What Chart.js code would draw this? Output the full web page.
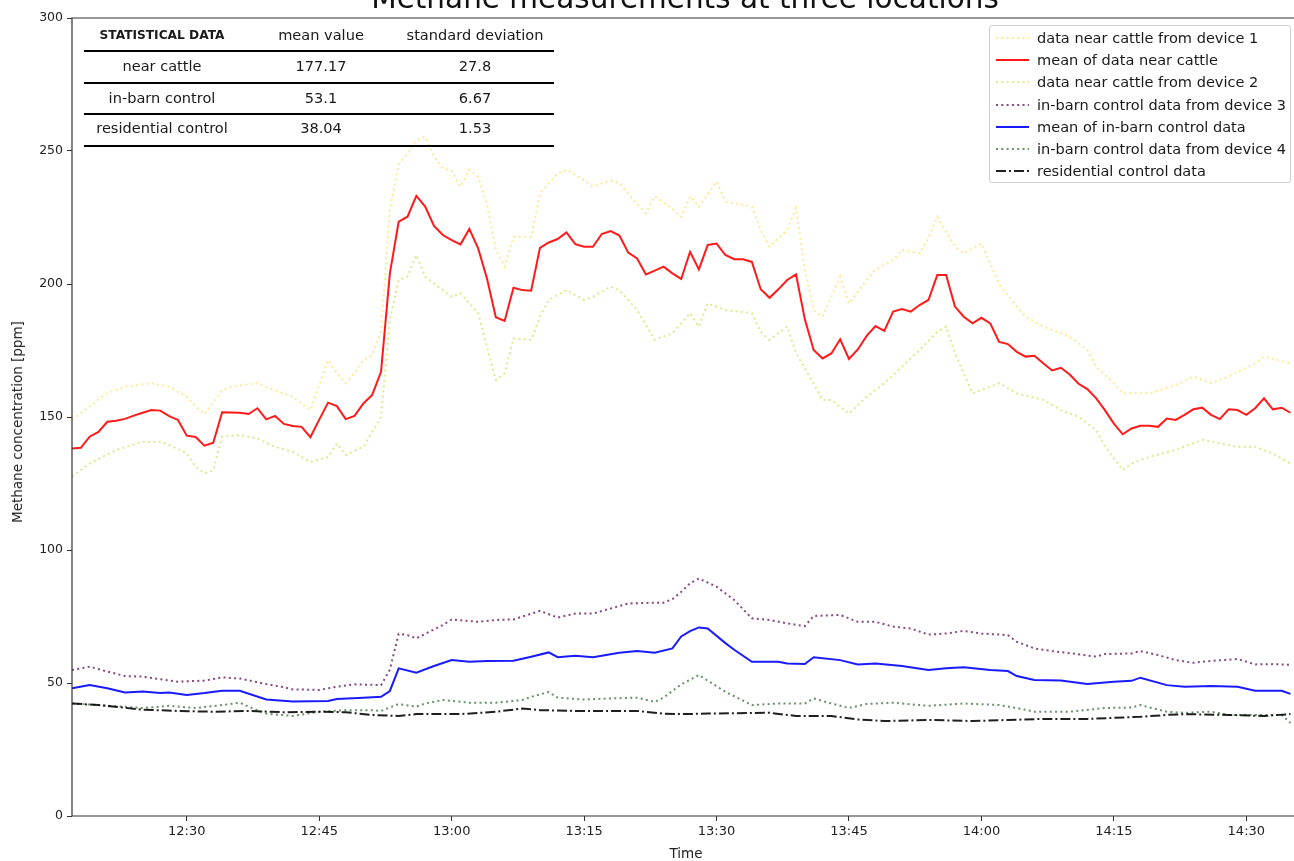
<!DOCTYPE html>
<html>
<head>
<meta charset="utf-8">
<script src="https://cdn.jsdelivr.net/npm/chart.js@4.4.0/dist/chart.umd.min.js"></script>
<style>
  html, body { margin: 0; padding: 0; background: #fff; overflow: hidden; }
  #wrap { position: relative; width: 1294px; height: 861px; font-family: "DejaVu Sans", sans-serif; color: #111; }
  #c { position: absolute; left: 0; top: 0; }
  #title { position: absolute; left: 685px; top: -16px; transform: translateX(-50%); font-size: 29.5px; line-height: 29.5px; white-space: nowrap; color: #111; }
  #ytitle { position: absolute; left: 17px; top: 422px; transform: translate(-50%, -50%) rotate(-90deg); font-size: 13.5px; white-space: nowrap; color: #222; }
  #xtitle { position: absolute; left: 686px; top: 853px; transform: translate(-50%, -50%); font-size: 13.5px; color: #222; }
  .cell { position: absolute; transform: translate(-50%, -50%) scaleX(1.04); font-size: 14px; white-space: nowrap; color: #1a1a1a; }
  .cell.head0 { font-weight: bold; font-size: 12.2px; transform: translate(-50%, -50%); }
  .rule { position: absolute; left: 84px; width: 470px; height: 1.5px; background: #000; }
  #legend { position: absolute; left: 989px; top: 25px; width: 302px; height: 158px; border: 1px solid #cfcfcf; border-radius: 3px; background: rgba(255,255,255,0.85); box-sizing: border-box; }
  .lrow { position: absolute; left: 0; height: 20px; width: 100%; }
  .lrow svg { position: absolute; left: 5px; top: 0; }
  .lrow span { position: absolute; left: 47px; top: 50%; transform: translateY(-50%) scaleX(1.04); transform-origin: left center; font-size: 14px; white-space: nowrap; color: #1a1a1a; }
</style>
</head>
<body>
<div id="wrap">
  <canvas id="c" width="1294" height="861"></canvas>
  <div id="title">Methane measurements at three locations</div>
  <div id="ytitle">Methane concentration [ppm]</div>
  <div id="xtitle">Time</div>
  <div id="stats"></div>
  <div id="legend"></div>
</div>
<script>
// Time axis: minutes after 12:17 (sampling once per minute)
const START_MIN = 12 * 60 + 17;
const END_MIN = START_MIN + 138.4;
const xTickMinutes = [750, 765, 780, 795, 810, 825, 840, 855, 870];
const yTickValues = [0, 50, 100, 150, 200, 250, 300];

// Mean of the two devices near cattle, one value per minute from 12:17
const cattleMeanPpm = [
  138.2, 138.4, 142.6, 144.4, 148.2, 148.6, 149.3, 150.5, 151.6, 152.6,
  152.4, 150.3, 148.9, 143.0, 142.5, 139.2, 140.3, 151.8, 151.7, 151.6,
  151.1, 153.3, 149.1, 150.4, 147.4, 146.6, 146.3, 142.4, 149.0, 155.4,
  154.1, 149.2, 150.4, 155.1, 158.3, 167.0, 204.0, 223.4, 225.3, 233.1,
  229.1, 221.8, 218.4, 216.5, 214.9, 220.7, 213.4, 202.1, 187.5, 186.1,
  198.6, 197.7, 197.5, 213.6, 215.6, 216.9, 219.4, 215.0, 214.0, 214.0,
  218.8, 219.9, 218.2, 211.8, 209.6, 203.6, 205.0, 206.5, 204.0, 201.9,
  212.1, 205.5, 214.7, 215.2, 210.9, 209.3, 209.3, 208.3, 198.0, 194.8,
  198.0, 201.5, 203.6, 186.7, 175.2, 172.0, 173.9, 179.2, 171.8, 175.4,
  180.5, 184.2, 182.4, 189.6, 190.6, 189.6, 192.1, 194.0, 203.4, 203.4,
  191.5, 187.7, 185.2, 187.3, 185.2, 178.2, 177.4, 174.5, 172.7, 173.0,
  170.2, 167.5, 168.5, 166.0, 162.5, 160.5, 157.0, 152.5, 147.5, 143.5,
  145.7, 146.7, 146.7, 146.3, 149.4, 148.9, 150.8, 152.9, 153.5, 150.8,
  149.2, 152.9, 152.6, 150.8, 153.3, 157.0, 152.9, 153.5, 151.6
];
const cattleMeanMin = cattleMeanPpm.map((_, i) => i);

const device1Min = [0, 4, 6, 9, 11, 13, 14, 15, 17, 18, 21, 23, 25, 26, 27, 29, 30, 31, 32, 33, 34, 35, 36, 37, 38, 39, 40, 41, 42, 43, 44, 45, 46, 47, 48, 49, 50, 52, 53, 54, 55, 56, 58, 59, 61, 62, 64, 65, 66, 68, 69, 70, 71, 73, 74, 77, 78, 79, 81, 82, 83, 84, 85, 87, 88, 90, 91, 93, 94, 96, 97, 98, 100, 101, 103, 105, 107, 108, 110, 113, 115, 116, 118, 119, 122, 125, 127, 129, 131, 134, 135, 138];
const device1Ppm = [149, 159, 161.4, 162.7, 161.4, 157.6, 154, 151, 160, 161.4, 162.7, 160, 157.6, 155, 152.6, 171.4, 166.4, 162.7, 166.4, 171.4, 173.3, 182, 228, 245, 249, 254, 255.4, 248, 243.5, 242.5, 236.6, 243, 240.3, 230, 212.8, 206.5, 217.8, 217.8, 234, 237.8, 241.6, 243, 239, 236.6, 239, 237.8, 230, 226.6, 233, 228.2, 225.3, 233, 229, 238.5, 231, 229, 220.3, 214, 220.3, 228.5, 205.3, 190.2, 187.7, 202.7, 192.7, 201.5, 205.3, 209, 212.8, 211.5, 217.3, 225.3, 214, 211.5, 215.2, 200, 191.5, 187.7, 184, 180.2, 175.2, 168.9, 162.7, 158.9, 158.9, 162, 165.2, 162.7, 165.2, 170.2, 172.7, 170.2];

const device2Min = [0, 2, 5, 8, 10, 11, 13, 14, 15, 16, 17, 19, 21, 23, 25, 27, 29, 30, 31, 33, 35, 36, 37, 38, 39, 40, 42, 43, 44, 46, 47, 48, 49, 50, 52, 53, 54, 56, 58, 59, 61, 62, 64, 66, 68, 69, 70, 71, 72, 74, 77, 78, 79, 81, 82, 84, 85, 86, 88, 90, 92, 94, 96, 98, 99, 100, 102, 104, 105, 107, 110, 112, 114, 116, 117, 119, 120, 122, 125, 128, 130, 132, 134, 136, 138];
const device2Ppm = [127.6, 132.5, 137.6, 140.7, 140.7, 139.5, 136.3, 131.3, 128.8, 130, 142.6, 143.2, 141.9, 138.8, 136.9, 133.1, 135, 140, 135.7, 138.8, 150, 186.5, 201.5, 202.8, 210.9, 202.7, 197.7, 195.2, 196.5, 189, 176.4, 163.9, 166.4, 179.5, 179, 187.7, 194, 197.7, 194, 195.2, 199, 197.7, 190.2, 179, 181.5, 185.2, 189, 184, 192.7, 190.2, 189, 182, 179, 184, 174, 162.7, 156.4, 156.4, 151.3, 157.6, 162.7, 168.9, 175.2, 182, 184, 174, 158.9, 161.4, 162.7, 158.9, 156.4, 152.6, 150.1, 145.1, 138.8, 130.1, 132.5, 135, 137.6, 141.4, 140.1, 138.8, 138.8, 136.3, 132.5];

const device3Min = [0, 2, 4, 6, 8, 10, 12, 15, 17, 19, 22, 24, 25, 28, 30, 32, 35, 36, 37, 38, 39, 42, 43, 46, 48, 50, 53, 55, 57, 59, 61, 63, 66, 67, 68, 69, 70, 71, 73, 75, 77, 79, 81, 83, 84, 87, 89, 91, 93, 95, 97, 99, 101, 103, 106, 107, 109, 111, 114, 116, 117, 120, 121, 123, 125, 127, 129, 132, 134, 136, 138];
const device3Ppm = [54.9, 56.1, 54.3, 52.6, 52.4, 51.4, 50.5, 50.9, 52.1, 51.7, 49.6, 48.4, 47.6, 47.4, 48.6, 49.5, 49.2, 55, 68.5, 68, 66.8, 71.8, 73.9, 73, 73.7, 73.9, 77.1, 74.6, 76.1, 76.1, 78, 79.9, 80.2, 80.2, 81.5, 84.3, 87.5, 89.3, 86.2, 81.2, 74.3, 73.7, 72.4, 71.4, 75.2, 75.6, 73, 73, 71.2, 70.5, 68.2, 68.6, 69.6, 68.6, 68, 65.5, 63, 62, 60.8, 59.9, 60.9, 61.1, 62, 60.5, 58.6, 57.6, 58.3, 59, 57, 57.1, 56.8];

const barnMeanMin = [0, 2, 4, 6, 8, 10, 11, 13, 15, 17, 19, 22, 25, 29, 30, 33, 35, 36, 37, 39, 41, 43, 45, 47, 50, 52, 54, 55, 57, 59, 62, 64, 66, 68, 69, 70, 71, 72, 74, 75, 77, 80, 81, 83, 84, 87, 89, 91, 94, 97, 99, 101, 104, 106, 107, 109, 112, 115, 118, 120, 121, 124, 126, 129, 132, 134, 137, 138];
const barnMeanPpm = [48, 49.2, 48, 46.4, 46.8, 46.2, 46.4, 45.5, 46.2, 47.1, 47.1, 43.8, 43, 43.2, 44, 44.5, 44.8, 47, 55.5, 53.9, 56.4, 58.6, 58, 58.3, 58.4, 59.9, 61.5, 59.7, 60.2, 59.7, 61.4, 62, 61.4, 63, 67.5, 69.5, 70.9, 70.5, 65, 62.5, 58, 58, 57.3, 57.1, 59.7, 58.6, 57, 57.3, 56.4, 54.9, 55.5, 55.9, 54.9, 54.5, 52.6, 51.1, 50.9, 49.6, 50.5, 50.8, 52, 49.2, 48.6, 48.9, 48.6, 47.1, 47.1, 45.9];

const device4Min = [0, 3, 8, 11, 14, 17, 19, 20, 22, 25, 28, 31, 34, 35, 37, 39, 40, 42, 45, 48, 51, 52, 54, 55, 58, 61, 64, 66, 67, 69, 71, 74, 77, 80, 83, 84, 86, 88, 90, 93, 97, 101, 105, 107, 109, 113, 117, 120, 121, 124, 126, 129, 131, 134, 137, 138];
const device4Ppm = [42.3, 41.7, 40.6, 41.4, 40.6, 41.7, 42.6, 41.1, 38.5, 37.6, 39.2, 39.8, 39.8, 39.5, 42.1, 41.1, 42.3, 43.6, 42.6, 42.6, 43.6, 44.8, 46.6, 44.5, 43.8, 44.2, 44.5, 42.9, 44.5, 49.5, 53, 46.7, 41.7, 42.3, 42.3, 44.2, 42.3, 40.6, 42.1, 42.6, 41.4, 42.3, 41.7, 40.6, 39.2, 39.2, 40.6, 40.8, 41.7, 39.2, 38.8, 39.2, 38, 38, 38, 35];

const residentialMin = [0, 3, 8, 12, 16, 20, 24, 28, 31, 34, 37, 39, 44, 48, 51, 53, 57, 61, 64, 67, 69, 72, 79, 82, 86, 89, 92, 97, 102, 106, 110, 115, 121, 124, 126, 131, 135, 138];
const residentialPpm = [42.3, 41.7, 40, 39.5, 39.2, 39.5, 39, 39.2, 39, 38, 37.6, 38.3, 38.3, 39.2, 40.4, 39.8, 39.5, 39.5, 39.5, 38.5, 38.3, 38.5, 38.8, 37.6, 37.6, 36.3, 35.7, 36.1, 35.7, 36.1, 36.5, 36.5, 37.3, 38, 38.3, 38, 37.6, 38.3];

// Summary table
const statsHeader = ['STATISTICAL DATA', 'mean value', 'standard deviation'];
const statsLocation = ['near cattle', 'in-barn control', 'residential control'];
const statsMean = ['177.17', '53.1', '38.04'];
const statsStd = ['27.8', '6.67', '1.53'];

const seriesLabels = [
  'data near cattle from device 1',
  'mean of data near cattle',
  'data near cattle from device 2',
  'in-barn control data from device 3',
  'mean of in-barn control data',
  'in-barn control data from device 4',
  'residential control data'
];

const DOT = [2, 3.3];
const DASHDOT = [10, 3, 2, 3];
const styles = [
  { color: 'rgba(255, 200, 0, 0.42)', width: 2, dash: DOT, order: 6 },
  { color: '#ff1a1a', width: 2, dash: [], order: 1 },
  { color: 'rgba(185, 205, 0, 0.45)', width: 2, dash: DOT, order: 6 },
  { color: 'rgba(105, 25, 100, 0.8)', width: 2, dash: DOT, order: 4 },
  { color: '#1a1aff', width: 2, dash: [], order: 1 },
  { color: 'rgba(40, 100, 40, 0.7)', width: 2, dash: DOT, order: 4 },
  { color: 'rgba(0, 0, 0, 0.88)', width: 2, dash: DASHDOT, order: 2 }
];
const seriesData = [
  [device1Min, device1Ppm],
  [cattleMeanMin, cattleMeanPpm],
  [device2Min, device2Ppm],
  [device3Min, device3Ppm],
  [barnMeanMin, barnMeanPpm],
  [device4Min, device4Ppm],
  [residentialMin, residentialPpm]
];

const datasets = seriesLabels.map((label, k) => ({
  label,
  data: seriesData[k][0].map((m, i) => ({ x: START_MIN + m, y: seriesData[k][1][i] })),
  borderColor: styles[k].color,
  borderWidth: styles[k].width,
  borderDash: styles[k].dash,
  order: styles[k].order,
  pointRadius: 0,
  tension: 0,
  fill: false
}));

// Frame around the plotting area (left, top, bottom)
const framePlugin = {
  id: 'frame',
  afterDraw(chart) {
    const { ctx, chartArea: a } = chart;
    ctx.save();
    ctx.strokeStyle = '#333';
    ctx.lineWidth = 1.2;
    ctx.beginPath();
    ctx.moveTo(a.right + 2, a.top);
    ctx.lineTo(a.left, a.top);
    ctx.lineTo(a.left, a.bottom);
    ctx.lineTo(a.right + 2, a.bottom);
    ctx.stroke();
    ctx.restore();
  }
};

const fmtClock = v => Math.floor(v / 60) + ':' + String(Math.round(v % 60)).padStart(2, '0');

new Chart(document.getElementById('c'), {
  type: 'line',
  data: { datasets },
  options: {
    responsive: false,
    animation: false,
    devicePixelRatio: 1,
    layout: { padding: { top: 18, left: 0, right: 0, bottom: 0 } },
    plugins: { legend: { display: false }, tooltip: { enabled: false }, title: { display: false } },
    scales: {
      x: {
        type: 'linear',
        min: START_MIN,
        max: END_MIN,
        afterFit(s) { s.height = 45; },
        afterBuildTicks(s) { s.ticks = xTickMinutes.map(v => ({ value: v })); },
        grid: { drawOnChartArea: false, drawTicks: true, tickLength: 5, tickColor: '#333', lineWidth: 1 },
        border: { display: false },
        ticks: { color: '#222', font: { family: 'DejaVu Sans', size: 13 }, padding: 3, maxRotation: 0, autoSkip: false, callback: v => fmtClock(v) }
      },
      y: {
        min: 0,
        max: 300,
        afterFit(s) { s.width = 72; },
        afterBuildTicks(s) { s.ticks = yTickValues.map(v => ({ value: v })); },
        grid: { drawOnChartArea: false, drawTicks: true, tickLength: 5, tickColor: '#333', lineWidth: 1 },
        border: { display: false },
        ticks: { color: '#222', font: { family: 'DejaVu Sans', size: 12.5 }, padding: 4, autoSkip: false }
      }
    }
  },
  plugins: [framePlugin]
});

// Statistics table drawn over the upper-left of the plot
(function buildStats() {
  const host = document.getElementById('stats');
  const colX = [162, 321, 475];
  const rowY = [35, 66, 98, 128];
  const ruleY = [51, 83, 114, 146];
  const rows = [statsHeader].concat(statsLocation.map((n, i) => [n, statsMean[i], statsStd[i]]));
  rows.forEach((row, r) => {
    row.forEach((txt, c) => {
      const d = document.createElement('div');
      d.className = 'cell' + (r === 0 && c === 0 ? ' head0' : '');
      d.style.left = colX[c] + 'px';
      d.style.top = rowY[r] + 'px';
      d.textContent = txt;
      host.appendChild(d);
    });
  });
  ruleY.forEach(y => {
    const l = document.createElement('div');
    l.className = 'rule';
    l.style.top = (y - 0.75) + 'px';
    host.appendChild(l);
  });
})();

// Legend box with line samples
(function buildLegend() {
  const host = document.getElementById('legend');
  seriesLabels.forEach((label, k) => {
    const row = document.createElement('div');
    row.className = 'lrow';
    row.style.top = (2 + k * 22.2) + 'px';
    const st = styles[k];
    row.innerHTML =
      '<svg width="36" height="20"><line x1="1" y1="10" x2="34" y2="10" stroke="' + st.color +
      '" stroke-width="' + st.width + '" stroke-dasharray="' + (st.dash.length ? st.dash.join(' ') : 'none') + '"/></svg>' +
      '<span></span>';
    row.querySelector('span').textContent = label;
    host.appendChild(row);
  });
})();
</script>
</body>
</html>
